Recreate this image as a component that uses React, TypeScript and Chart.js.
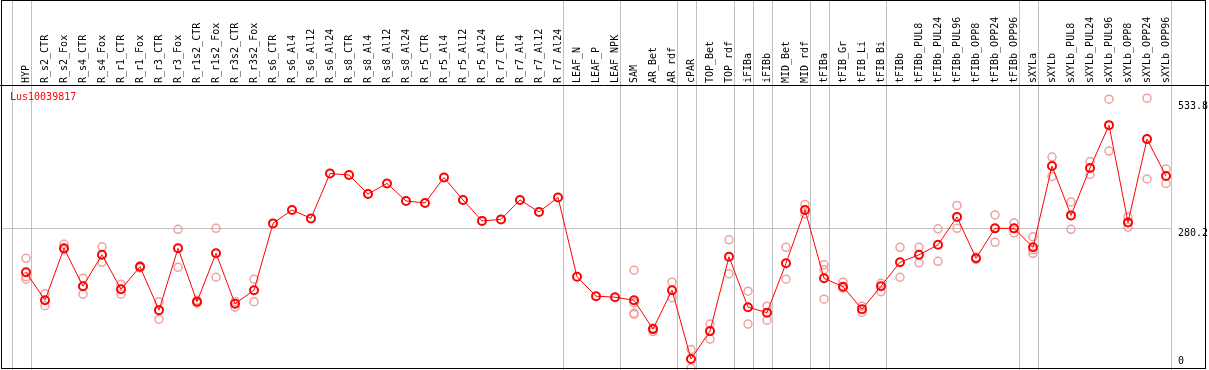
import React, { useEffect, useRef } from "react";
import { Chart, registerables } from "chart.js";

Chart.register(...registerables);

const categories = [
  "HYP", "R_s2_CTR", "R_s2_Fox", "R_s4_CTR", "R_s4_Fox", "R_r1_CTR", "R_r1_Fox", "R_r3_CTR", "R_r3_Fox",
  "R_r1s2_CTR", "R_r1s2_Fox", "R_r3s2_CTR", "R_r3s2_Fox", "R_s6_CTR", "R_s6_Al4", "R_s6_Al12", "R_s6_Al24",
  "R_s8_CTR", "R_s8_Al4", "R_s8_Al12", "R_s8_Al24", "R_r5_CTR", "R_r5_Al4", "R_r5_Al12", "R_r5_Al24",
  "R_r7_CTR", "R_r7_Al4", "R_r7_Al12", "R_r7_Al24", "LEAF_N", "LEAF_P", "LEAF_NPK", "SAM", "AR_Bet", "AR_rdf",
  "cPAR", "TOP_Bet", "TOP_rdf", "iFIBa", "iFIBb", "MID_Bet", "MID_rdf", "tFIBa", "tFIB_Gr", "tFIB_Li", "tFIB_Bi",
  "tFIBb", "tFIBb_PUL8", "tFIBb_PUL24", "tFIBb_PUL96", "tFIBb_OPP8", "tFIBb_OPP24", "tFIBb_OPP96", "sXYLa",
  "sXYLb", "sXYLb_PUL8", "sXYLb_PUL24", "sXYLb_PUL96", "sXYLb_OPP8", "sXYLb_OPP24", "sXYLb_OPP96",
];

const meanValues = [
  192, 136, 240, 164, 227, 158, 203, 116, 240, 133, 230, 129, 156, 290, 317, 300, 390,
  387, 349, 370, 335, 331, 382, 337, 295, 298, 337, 313, 342, 183, 144, 142, 136, 78, 156,
  18, 74, 223, 122, 111, 210, 317, 180, 163, 118, 164, 212, 227, 247, 303, 220, 280, 280, 242,
  405, 306, 401, 487, 292, 459, 385,
];

const rep1 = [
  220, 149, 248, 180, 243, 168, 205, 133, 278, 136, 280, 133, 178, null, null, null, null,
  null, null, null, null, null, null, null, null, null, null, null, null, null, null, null, 196, 80, 172,
  37, 88, 257, 154, 124, 242, 328, 207, 172, 112, 170, 242, 242, 279, 326, 222, 307, 291, 263,
  423, 333, 414, 539, 303, 541, 399,
];
const rep2 = [
  183, 125, 237, 148, 212, 148, 201, 98, 202, 130, 182, 122, 133, null, null, null, null,
  null, null, null, null, null, null, null, null, null, null, null, null, null, null, null, 131, 73, 141,
  0, 58, 189, 88, 96, 178, 309, 197, 160, 124, 153, 182, 211, 214, 280, 218, 252, 271, 237,
  384, 278, 388, 435, 282, 379, 370,
];
const rep3 = [
  178, null, null, null, null, null, null, null, null, null, null, null, null, null, null, null, null,
  null, null, null, null, null, null, null, null, null, null, null, null, null, null, null, 110, null, null,
  null, null, null, null, null, null, null, 138, null, null, null, null, null, null, null, null, null, null, 230,
  null, null, null, null, null, null, null,
];
const rep4 = [
  null, null, null, null, null, null, null, null, null, null, null, null, null, null, null, null, null,
  null, null, null, null, null, null, null, null, null, null, null, null, null, null, null, 108, null, null,
  null, null, null, null, null, null, null, null, null, null, null, null, null, null, null, null, null, null, null,
  null, null, null, null, null, null, null,
];

const geneName = "Lus10039817";
const yTickValues = [0, 280.2, 533.8];
const gridValue = 280.2;
// index of last category in each group (separator drawn after it)
const groupEnds = [0, 28, 31, 34, 35, 37, 38, 39, 41, 42, 45, 52, 53, 60];

const FONT = "DejaVu Sans Mono";

const zeroPadding = (s: any) => {
  s.paddingTop = 0;
  s.paddingBottom = 0;
  s.paddingLeft = 0;
  s.paddingRight = 0;
};

export default function App() {
  const ref = useRef<HTMLCanvasElement | null>(null);

  useEffect(() => {
    document.body.style.margin = "0";
    const canvas = ref.current;
    if (!canvas) return;

    const repPoints: { x: string; y: number }[] = [];
    [rep1, rep2, rep3, rep4].forEach((arr) => {
      arr.forEach((v, i) => {
        if (v !== null && v !== undefined) repPoints.push({ x: categories[i], y: v as number });
      });
    });

    const decor = {
      id: "decor",
      beforeDatasetsDraw(chart: any) {
        const ctx = chart.ctx;
        const xs = chart.scales.x;
        const ys = chart.scales.y;
        const step = xs.getPixelForValue(1) - xs.getPixelForValue(0);
        ctx.save();
        ctx.strokeStyle = "#c0c0c0";
        ctx.lineWidth = 1;
        const lines = [-1, ...groupEnds];
        lines.forEach((i) => {
          const x = Math.round(xs.getPixelForValue(0) + (i + 0.25) * step) + 0.5;
          ctx.beginPath();
          ctx.moveTo(x, 0);
          ctx.lineTo(x, chart.height);
          ctx.stroke();
        });
        const gy = Math.round(ys.getPixelForValue(gridValue)) + 0.5;
        const gx2 = Math.round(xs.getPixelForValue(categories.length - 1) + 0.25 * step) + 0.5;
        ctx.beginPath();
        ctx.moveTo(1, gy);
        ctx.lineTo(gx2, gy);
        ctx.stroke();
        ctx.restore();
      },
      afterDraw(chart: any) {
        const ctx = chart.ctx;
        const area = chart.chartArea;
        ctx.save();
        ctx.strokeStyle = "#000";
        ctx.lineWidth = 1;
        ctx.beginPath();
        ctx.moveTo(0, Math.round(area.top) + 0.5);
        ctx.lineTo(chart.width, Math.round(area.top) + 0.5);
        ctx.stroke();
        ctx.strokeRect(1.5, 0.5, 1204, 368);
        ctx.fillStyle = "#ff0000";
        ctx.font = `10px "${FONT}"`;
        ctx.textBaseline = "middle";
        ctx.textAlign = "left";
        ctx.fillText(geneName, 10, area.top + 12);
        ctx.restore();
      },
    };

    const chart = new Chart(canvas, {
      type: "line",
      data: {
        labels: categories,
        datasets: [
          {
            label: geneName,
            data: meanValues,
            borderColor: "#ff0000",
            borderWidth: 1,
            pointRadius: 4,
            pointBorderWidth: 2,
            pointBorderColor: "#ff0000",
            pointBackgroundColor: "rgba(0,0,0,0)",
            clip: false as any,
            order: 0,
            xAxisID: "x",
            yAxisID: "y",
          },
          {
            label: "replicates",
            data: repPoints as any,
            showLine: false,
            borderColor: "#f0a0a0",
            pointRadius: 4,
            pointBorderWidth: 1.5,
            pointBorderColor: "#f0a0a0",
            pointBackgroundColor: "rgba(0,0,0,0)",
            clip: false as any,
            order: 1,
            xAxisID: "x",
            yAxisID: "y",
          },
        ],
      },
      plugins: [decor],
      options: {
        animation: false,
        responsive: false,
        devicePixelRatio: 1,
        layout: { autoPadding: false, padding: { left: 26, right: 0, top: 0, bottom: 1 } },
        plugins: {
          legend: { display: false },
          tooltip: { enabled: false },
          title: { display: false },
        },
        scales: {
          x: {
            type: "category",
            position: "top",
            offset: false,
            grid: { display: false, drawTicks: false },
            border: { display: false },
            ticks: {
              autoSkip: false,
              minRotation: 90,
              maxRotation: 90,
              padding: 2,
              labelOffset: 12,
              color: "#000",
              font: { family: FONT, size: 10 },
            },
            afterFit: (s: any) => {
              s.height = 85;
              zeroPadding(s);
            },
          },
          y: {
            type: "linear",
            position: "right",
            min: -2,
            max: 567.5,
            grid: { display: false, drawTicks: false },
            border: { display: false },
            afterBuildTicks: (s: any) => {
              s.ticks = yTickValues.map((v) => ({ value: v }));
            },
            ticks: {
              align: "start",
              autoSkip: false,
              padding: 12,
              color: "#000",
              font: { family: FONT, size: 10 },
              callback: (v: any) => (v === 0 ? ["0", "", ""] : String(v)),
            },
            afterFit: (s: any) => {
              s.width = 43;
              zeroPadding(s);
            },
          },
        },
      },
    });

    return () => chart.destroy();
  }, []);

  return <canvas ref={ref} width={1209} height={370} style={{ display: "block" }} />;
}
